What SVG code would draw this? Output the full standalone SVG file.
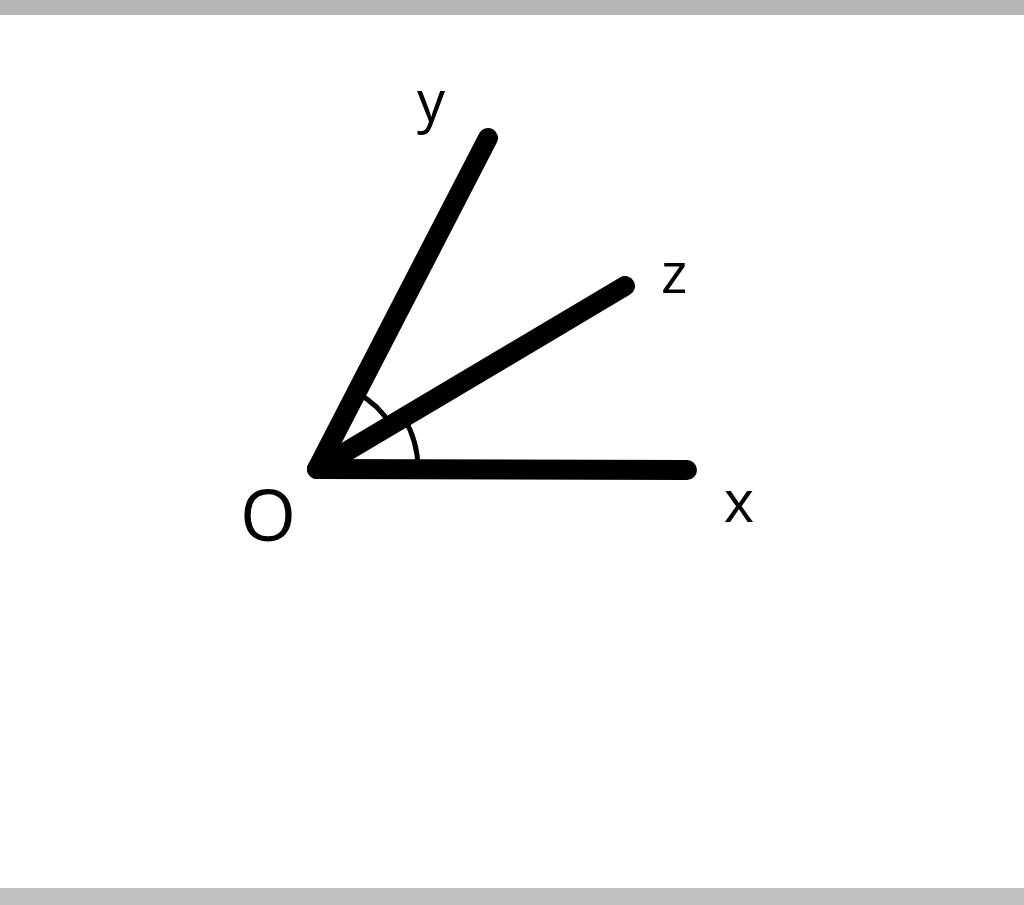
<svg xmlns="http://www.w3.org/2000/svg" width="1024" height="905" viewBox="0 0 1024 905">
<style>
.ray{stroke:#000;stroke-width:20;stroke-linecap:round;fill:none}
.arc{stroke:#000;stroke-width:5;fill:none}
.lbl{font-family:"Open Sans","Noto Sans",sans-serif;fill:#000;text-anchor:middle}
</style>
<rect x="0" y="0" width="1024" height="905" fill="#fff"/>
<rect x="0" y="0" width="1024" height="15" fill="#b6b7b6"/>
<rect x="0" y="888" width="1024" height="17" fill="#c2c3c1"/>
<g id="arcs">
<path class="arc" d="M357,393 A85,85 0 0 1 391,425.5"/>
<path class="arc" d="M404,418 A100,100 0 0 1 418,469"/>
</g>
<g id="connectors">
<line class="ray" x1="317" y1="469" x2="687" y2="470"/>
<line class="ray" x1="317" y1="469" x2="488" y2="138"/>
<line class="ray" x1="317" y1="469" x2="625" y2="286"/>
</g>
<g id="labels">
<text class="lbl" x="431" y="121" font-size="56">y</text>
<text class="lbl" x="674" y="293" font-size="56">z</text>
<text class="lbl" x="739" y="522" font-size="58">x</text>
<text class="lbl" x="268" y="541" font-size="72">O</text>
</g>
</svg>
